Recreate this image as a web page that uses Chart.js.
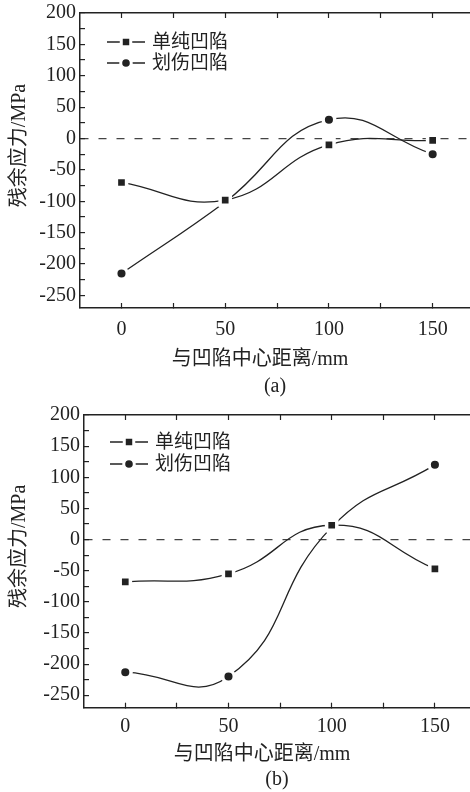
<!DOCTYPE html>
<html>
<head>
<meta charset="utf-8">
<script src="https://cdn.jsdelivr.net/npm/chart.js@4.4.1/dist/chart.umd.min.js"></script>
<style>
  html, body { margin: 0; padding: 0; background: #fff; overflow: hidden; }
  .panel { position: absolute; left: 0; width: 470px; }
  #wrapA { top: 0; height: 400px; }
  #wrapB { top: 400px; height: 392px; }
</style>
</head>
<body>
<div class="panel" id="wrapA"><canvas id="chartA"></canvas></div>
<div class="panel" id="wrapB"><canvas id="chartB"></canvas></div>
<script>
// datos
const distances = [0, 50, 100, 150];
const seriesNames = ["单纯凹陷", "划伤凹陷"];
const dentA = [-70, -98, -10, -3];
const scratchA = [-215, -101, 30, -25];
const dentB = [-68, -55, 23, -47];
const scratchB = [-213, -220, 20, 120];
const xTickLabels = [0, 50, 100, 150];
const yTickLabels = [-250, -200, -150, -100, -50, 0, 50, 100, 150, 200];
const xTitle = "与凹陷中心距离/mm";
const yTitle = "残余应力/MPa";
const captions = ["(a)", "(b)"];

const INK = "#222";
const FONT = "'Liberation Serif', 'Noto Sans CJK SC', serif";

Chart.defaults.font.family = FONT;
Chart.defaults.font.size = 20;
Chart.defaults.color = INK;

// leyenda dentro del área: línea + marcador + texto
const inlineLegend = {
  id: "inlineLegend",
  afterDatasetsDraw(chart, args, opts) {
    const { ctx, chartArea } = chart;
    const x0 = chartArea.left + opts.dx;
    chart.data.datasets.forEach((ds, i) => {
      const y = chartArea.top + opts.dy + i * opts.gap;
      ctx.save();
      ctx.strokeStyle = INK;
      ctx.lineWidth = 1.5;
      ctx.beginPath();
      ctx.moveTo(x0, y);
      ctx.lineTo(x0 + 38, y);
      ctx.stroke();
      ctx.fillStyle = INK;
      ctx.strokeStyle = "#fff";
      ctx.lineWidth = 3;
      Chart.helpers.drawPoint(ctx, { pointStyle: ds.pointStyle, radius: ds.pointRadius - 0.5, borderWidth: 3 }, x0 + 19, y);
      ctx.fillStyle = INK;
      ctx.font = "19px " + FONT;
      ctx.textBaseline = "middle";
      ctx.fillText(ds.label, x0 + 45, y + 1);
      ctx.restore();
    });
  }
};

function seriesSet(dent, scratch, tension) {
  const common = {
    borderColor: INK, borderWidth: 1.3, backgroundColor: INK,
    pointBackgroundColor: INK, pointBorderColor: "#fff", pointBorderWidth: 3.5,
    tension, fill: false
  };
  return [
    { ...common, label: seriesNames[0], data: distances.map((x, i) => ({ x, y: dent[i] })), pointStyle: "rect", pointRadius: 7.2 },
    { ...common, label: seriesNames[1], data: distances.map((x, i) => ({ x, y: scratch[i] })), pointStyle: "circle", pointRadius: 5.8 }
  ];
}

// sin relleno automático de las escalas: el área queda donde la queremos
function noScalePadding(s) {
  s.paddingTop = 0; s.paddingBottom = 0; s.paddingLeft = 0; s.paddingRight = 0;
}

function buildOptions(p) {
  const tickGrid = { drawOnChartArea: false, tickLength: -5, tickColor: INK, tickWidth: 1.2 };
  const frame = { color: INK, width: 1.5 };
  return {
    responsive: true, maintainAspectRatio: false, animation: false, events: [],
    layout: { autoPadding: false, padding: { top: p.top, right: 0, left: 0, bottom: 0 } },
    plugins: {
      legend: { display: false },
      tooltip: { enabled: false },
      title: {
        display: true, text: p.caption, position: "bottom", fullSize: false,
        font: { size: 20, weight: "normal" }, color: INK,
        padding: { top: 0, bottom: p.capPad }
      },
      inlineLegend: p.legend
    },
    scales: {
      x: {
        type: "linear", min: -20, max: p.xMax,
        border: frame, grid: tickGrid,
        ticks: {
          stepSize: 25, includeBounds: false, autoSkip: false, maxRotation: 0, padding: p.xPad,
          callback: v => xTickLabels.includes(v) ? String(v) : ""
        },
        title: { display: true, text: xTitle + "      ", padding: { top: 0, bottom: p.xTitlePad } },
        afterFit: s => { s.height = p.xHeight; noScalePadding(s); }
      },
      xTop: {
        type: "linear", axis: "x", position: "top", min: -20, max: p.xMax,
        border: frame, grid: tickGrid,
        ticks: { display: false, stepSize: 25, includeBounds: false },
        afterFit: s => { s.height = 0; noScalePadding(s); }
      },
      y: {
        type: "linear", min: -270, max: 200,
        border: { ...frame, dash: [8, 10] },
        grid: {
          tickLength: -5, tickColor: INK, tickWidth: 1.2, lineWidth: 1.2,
          color: c => (c.tick && c.tick.value === 0) ? "#444" : "rgba(0,0,0,0)"
        },
        ticks: {
          stepSize: 25, includeBounds: false, autoSkip: false, padding: p.yPad,
          callback: v => yTickLabels.includes(v) ? String(v) : ""
        },
        title: { display: true, text: "      " + yTitle, padding: { top: p.yTitlePad, bottom: 0 } },
        afterFit: s => { s.width = p.yWidth; noScalePadding(s); }
      }
    }
  };
}

new Chart(document.getElementById("chartA"), {
  type: "line",
  data: { datasets: seriesSet(dentA, scratchA, 0.45) },
  options: buildOptions({
    caption: captions[0], top: 13, xMax: 168, yWidth: 80,
    xHeight: 66.7, xPad: 15, xTitlePad: 2.7, capPad: 1.3, yPad: 9, yTitlePad: 8,
    legend: { dx: 27, dy: 29, gap: 21 }
  }),
  plugins: [inlineLegend]
});

new Chart(document.getElementById("chartB"), {
  type: "line",
  data: { datasets: seriesSet(dentB, scratchB, 0.48) },
  options: buildOptions({
    caption: captions[1], top: 15, xMax: 167, yWidth: 84,
    xHeight: 60.3, xPad: 12, xTitlePad: 1, capPad: 0, yPad: 9, yTitlePad: 8,
    legend: { dx: 26, dy: 27, gap: 22 }
  }),
  plugins: [inlineLegend]
});
</script>
</body>
</html>
